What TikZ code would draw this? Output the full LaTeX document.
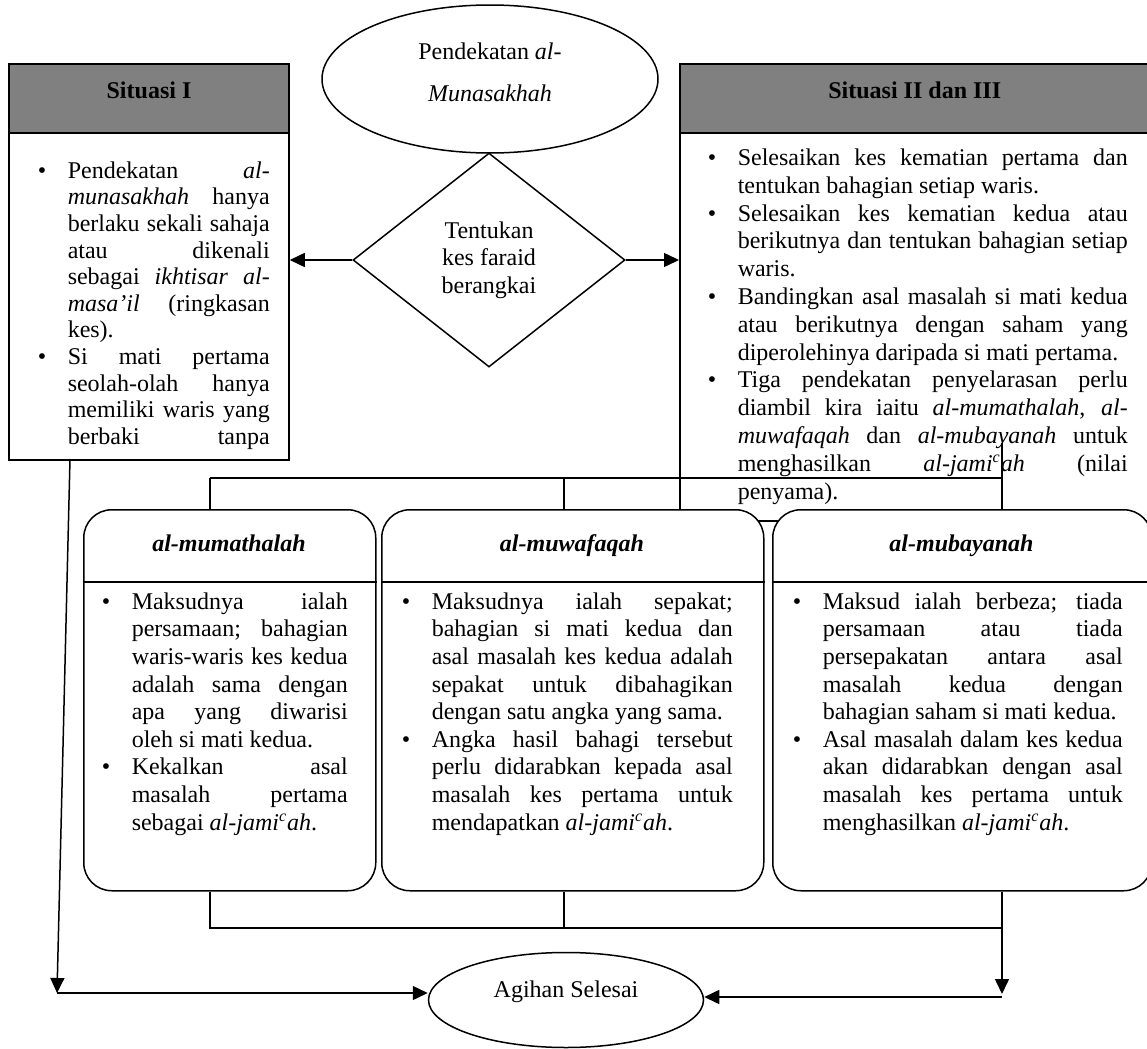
\documentclass[tikz,border=0pt]{standalone}
\usepackage{fontspec}
\setmainfont{Liberation Serif}
\usepackage{enumitem}
\usetikzlibrary{shapes.geometric,arrows.meta}
\definecolor{hdrgray}{RGB}{128,128,128}
\setlist[itemize]{label=\textbullet,labelindent=0pt,leftmargin=15pt,labelwidth=15pt,labelsep=0pt,align=left,nosep}
\newcommand{\fsz}{\fontsize{12pt}{13.8pt}\selectfont}
\newcommand{\jamiah}{\textit{al-jami\textsuperscript{c}ah}}

\begin{document}
\begin{tikzpicture}[x=0.5pt,y=-0.5pt,line width=0.75pt,
	every node/.style={font=\fsz},
	hdr/.style={draw,fill=hdrgray,font=\fsz\bfseries,text height=17.5pt,text depth=17pt,inner ysep=0pt},
	ttl/.style={font=\fsz\bfseries\itshape,text height=8.5pt,text depth=2.5pt},
	cbox/.style={draw,fill=white,inner sep=0pt},
	rbox/.style={draw,fill=white,rounded corners=14pt,inner sep=0pt},
	txt/.style={anchor=north west,inner sep=0pt,align=justify,
		execute at begin node={\tolerance=10000\hbadness=10000\hyphenpenalty=10000\exhyphenpenalty=10000}},
	arr/.style={-{Triangle[length=7.5pt,width=7pt]}}]
				\useasboundingbox (0,0) rectangle (1147,1049);
				\clip (0,0) rectangle (1147,1049);
				
				\node (sit2) at (679,63) [hdr,anchor=north west,minimum width=235pt] {Situasi II dan III};
				\node (sit2b) at (679,132) [cbox,anchor=north west,minimum width=235pt,minimum height=194pt] {};
				\node (sit2t) at (707,137) [txt,text width=210pt,font=\fontsize{12pt}{13.9pt}\selectfont] {%
					\begin{itemize}
					\item Selesaikan kes kematian pertama dan\linebreak tentukan bahagian setiap waris.
					\item Selesaikan kes kematian kedua atau\linebreak berikutnya dan tentukan bahagian setiap\linebreak waris.
					\item Bandingkan asal masalah si mati kedua\linebreak atau berikutnya dengan saham yang\linebreak diperolehinya daripada si mati pertama.
					\item Tiga pendekatan penyelarasan perlu\linebreak diambil kira iaitu \textit{al-mumathalah}, \textit{al-}\linebreak \textit{muwafaqah} dan \textit{al-mubayanah} untuk\linebreak menghasilkan \jamiah{} (nilai\linebreak penyama).
					\end{itemize}};
				
				\node (sit1) at (149,63) [hdr,anchor=north,minimum width=140pt] {Situasi I};
				\node (sit1b) at (149,132) [cbox,anchor=north,minimum width=140pt,minimum height=163.5pt] {};
				\node (sit1t) at (37,151) [txt,text width=116pt,font=\fontsize{12pt}{13.3pt}\selectfont] {%
					\begin{itemize}
					\item Pendekatan \textit{al-}\linebreak \textit{munasakhah} hanya\linebreak berlaku sekali sahaja\linebreak atau dikenali\linebreak sebagai \textit{ikhtisar al-}\linebreak \textit{masa’il} (ringkasan\linebreak kes).
					\item Si mati pertama\linebreak seolah-olah hanya\linebreak memiliki waris yang\linebreak berbaki tanpa\parfillskip=0pt
					\end{itemize}};
				
				\node (start) at (490,79) [ellipse,draw,minimum width=168pt,minimum height=74pt,inner sep=0pt,align=center,text depth=7pt] {Pendekatan \textit{al-}\\[7.2pt]\textit{Munasakhah}};
				\node (tentu) at (489,260) [diamond,draw,minimum width=136pt,minimum height=107pt,inner sep=0pt,align=center] {Tentukan\\kes faraid\\berangkai};
				
				\draw[arr] (tentu.west) -- (tentu.west -| sit1b.east);
				\draw[arr] (tentu.east) -- (tentu.east -| sit2b.west);
				
				\coordinate (t1) at (210,478);
				\coordinate (t2) at (564,478);
				\coordinate (t3) at (1002,478);
				\coordinate (t0) at (1002,443);
				
				\node (mum) at (83,509) [rbox,anchor=north west,minimum width=146pt,minimum height=190.5pt] {};
				\node (muw) at (381,509) [rbox,anchor=north west,minimum width=191pt,minimum height=190.5pt] {};
				\node (mub) at (772,509) [rbox,anchor=north west,minimum width=189.5pt,minimum height=190.5pt] {};
				
				\draw (t1) -- (t3);
				\draw (t1) -- (t1 |- mum.north);
				\draw (t2) -- (t2 |- muw.north);
				\draw (t0) -- (t0 |- mub.north);
				
				\node (mumh) at (229,545) [ttl] {al-mumathalah};
				\node (muwh) at (572,545) [ttl] {al-muwafaqah};
				\node (mubh) at (961.5,545) [ttl] {al-mubayanah};
				\draw ([yshift=-36.5pt]mum.north west) -- ([yshift=-36.5pt]mum.north east);
				\draw ([yshift=-36.5pt]muw.north west) -- ([yshift=-36.5pt]muw.north east);
				\draw ([yshift=-36.5pt]mub.north west) -- ([yshift=-36.5pt]mub.north east);
				
				\node (mumt) at (101,581) [txt,text width=123pt] {%
					\begin{itemize}
					\item Maksudnya ialah\linebreak persamaan; bahagian\linebreak waris-waris kes kedua\linebreak adalah sama dengan\linebreak apa yang diwarisi\linebreak oleh si mati kedua.
					\item Kekalkan asal\linebreak masalah pertama\linebreak sebagai \jamiah.
					\end{itemize}};
				\node (muwt) at (401,581) [txt,text width=165.5pt] {%
					\begin{itemize}
					\item Maksudnya ialah sepakat;\linebreak bahagian si mati kedua dan\linebreak asal masalah kes kedua adalah\linebreak sepakat untuk dibahagikan\linebreak dengan satu angka yang sama.
					\item Angka hasil bahagi tersebut\linebreak perlu didarabkan kepada asal\linebreak masalah kes pertama untuk\linebreak mendapatkan \jamiah.
					\end{itemize}};
				\node (mubt) at (792,581) [txt,text width=165pt] {%
					\begin{itemize}
					\item Maksud ialah berbeza; tiada\linebreak persamaan atau tiada\linebreak persepakatan antara asal\linebreak masalah kedua dengan\linebreak bahagian saham si mati kedua.
					\item Asal masalah dalam kes kedua\linebreak akan didarabkan dengan asal\linebreak masalah kes pertama untuk\linebreak menghasilkan \jamiah.
					\end{itemize}};
				
				\node (fin) at (566,1000) [ellipse,draw,minimum width=137.5pt,minimum height=47.5pt,inner sep=0pt,text depth=10.7pt] {Agihan Selesai};
				
				\coordinate (b1) at (210,928);
				\coordinate (b2) at (564,928);
				\coordinate (b3) at (1002,928);
				\coordinate (b4) at (1002,994);
				\coordinate (r0) at (1002,997);
				\coordinate (l0) at (70,459);
				\coordinate (l1) at (57,993);
				
				\draw (b1 |- mum.south) -- (b1) -- (b3);
				\draw (b2 |- muw.south) -- (b2);
				\draw[arr] (b3 |- mub.south) -- (b4);
				\draw[arr] (r0) -- (r0 -| fin.east);
				\draw[arr] (l0) -- (l1);
				\draw[arr] (l1) -- (l1 -| fin.west);
			\end{tikzpicture}
\end{document}
